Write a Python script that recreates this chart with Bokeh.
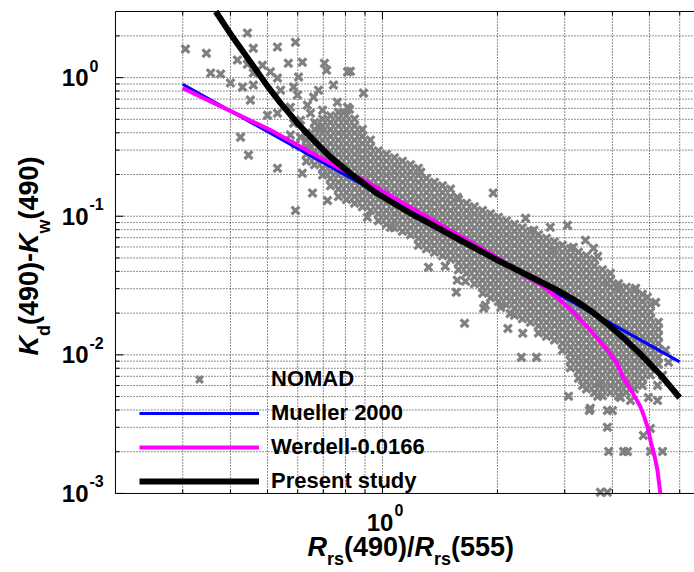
import math
from bokeh.plotting import figure
from bokeh.models import Label, Legend, LegendItem, Range1d
from bokeh.embed import file_html
from bokeh.resources import INLINE

# ---------------- data ----------------
nomad_ratio = [
    # scattered points
    0.305, 0.346, 0.355, 0.377, 0.443, 0.459, 0.417, 0.443, 0.400, 0.430,
    0.459, 0.451, 0.500, 0.425, 0.446, 0.531, 0.531, 0.592, 0.567, 0.705,
    0.485, 0.531, 0.509, 0.585, 0.599, 0.660, 0.680, 0.744, 0.697, 0.648,
    0.762, 0.790, 0.636, 0.574, 0.541, 0.603, 0.459, 0.592, 0.810, 0.714,
    0.617, 0.810, 0.531, 0.610, 0.648, 0.824, 0.892, 0.820, 0.585, 0.688,
    0.617, 0.656, 0.718, 1.95, 1.57, 1.26, 2.37, 2.49, 2.75, 3.05,
    3.40, 3.57, 3.66, 2.80, 3.16, 3.88, 4.12, 4.60, 4.94, 5.19,
    5.51, 5.61, 5.41, 5.25, 1.32, 1.46, 1.57, 1.65, 1.56, 1.83,
    1.86, 2.04, 1.64, 2.13, 2.33, 2.31, 2.53, 1.84, 2.16, 3.07,
    3.34, 3.48, 3.66, 3.70, 3.88, 4.00, 3.88, 3.91, 4.28, 4.38,
    5.03, 5.41, 4.82, 5.03, 4.97, 5.25, 4.20, 4.46, 3.72, 3.88,
    3.50, 0.913, 1.05, 0.610, 0.574, 0.592,
    # dense cloud
    0.632, 0.632, 0.632, 0.632, 0.632,
    0.664, 0.664, 0.664, 0.664, 0.664, 0.664, 0.664,
    0.697, 0.697, 0.697, 0.697, 0.697, 0.697, 0.697, 0.697, 0.697,
    0.731, 0.731, 0.731, 0.731, 0.731, 0.731, 0.731, 0.731, 0.731, 0.731, 0.731,
    0.767, 0.767, 0.767, 0.767, 0.767, 0.767, 0.767, 0.767, 0.767, 0.767, 0.767, 0.767, 0.767,
    0.805, 0.805, 0.805, 0.805, 0.805, 0.805, 0.805, 0.805, 0.805, 0.805, 0.805, 0.805, 0.805,
    0.845, 0.845, 0.845, 0.845, 0.845, 0.845, 0.845, 0.845, 0.845, 0.845, 0.845, 0.845, 0.845,
    0.886, 0.886, 0.886, 0.886, 0.886, 0.886, 0.886, 0.886, 0.886, 0.886, 0.886, 0.886,
    0.930, 0.930, 0.930, 0.930, 0.930, 0.930, 0.930, 0.930, 0.930, 0.930, 0.930,
    0.976, 0.976, 0.976, 0.976, 0.976, 0.976, 0.976, 0.976, 0.976, 0.976, 0.976,
    1.024, 1.024, 1.024, 1.024, 1.024, 1.024, 1.024, 1.024, 1.024, 1.024, 1.024,
    1.075, 1.075, 1.075, 1.075, 1.075, 1.075, 1.075, 1.075, 1.075, 1.075, 1.075,
    1.128, 1.128, 1.128, 1.128, 1.128, 1.128, 1.128, 1.128, 1.128, 1.128, 1.128,
    1.184, 1.184, 1.184, 1.184, 1.184, 1.184, 1.184, 1.184, 1.184, 1.184, 1.184,
    1.242, 1.242, 1.242, 1.242, 1.242, 1.242, 1.242, 1.242, 1.242, 1.242, 1.242, 1.242,
    1.304, 1.304, 1.304, 1.304, 1.304, 1.304, 1.304, 1.304, 1.304, 1.304, 1.304,
    1.368, 1.368, 1.368, 1.368, 1.368, 1.368, 1.368, 1.368, 1.368, 1.368, 1.368,
    1.436, 1.436, 1.436, 1.436, 1.436, 1.436, 1.436, 1.436, 1.436, 1.436, 1.436,
    1.507, 1.507, 1.507, 1.507, 1.507, 1.507, 1.507, 1.507, 1.507, 1.507, 1.507,
    1.581, 1.581, 1.581, 1.581, 1.581, 1.581, 1.581, 1.581, 1.581, 1.581, 1.581,
    1.660, 1.660, 1.660, 1.660, 1.660, 1.660, 1.660, 1.660, 1.660, 1.660, 1.660,
    1.741, 1.741, 1.741, 1.741, 1.741, 1.741, 1.741, 1.741, 1.741, 1.741, 1.741, 1.741,
    1.827, 1.827, 1.827, 1.827, 1.827, 1.827, 1.827, 1.827, 1.827, 1.827, 1.827, 1.827,
    1.918, 1.918, 1.918, 1.918, 1.918, 1.918, 1.918, 1.918, 1.918, 1.918, 1.918, 1.918, 1.918,
    2.012, 2.012, 2.012, 2.012, 2.012, 2.012, 2.012, 2.012, 2.012, 2.012, 2.012, 2.012, 2.012,
    2.112, 2.112, 2.112, 2.112, 2.112, 2.112, 2.112, 2.112, 2.112, 2.112, 2.112, 2.112, 2.112,
    2.216, 2.216, 2.216, 2.216, 2.216, 2.216, 2.216, 2.216, 2.216, 2.216, 2.216, 2.216, 2.216, 2.216,
    2.325, 2.325, 2.325, 2.325, 2.325, 2.325, 2.325, 2.325, 2.325, 2.325, 2.325, 2.325, 2.325, 2.325,
    2.440, 2.440, 2.440, 2.440, 2.440, 2.440, 2.440, 2.440, 2.440, 2.440, 2.440, 2.440, 2.440, 2.440,
    2.561, 2.561, 2.561, 2.561, 2.561, 2.561, 2.561, 2.561, 2.561, 2.561, 2.561, 2.561, 2.561, 2.561, 2.561,
    2.687, 2.687, 2.687, 2.687, 2.687, 2.687, 2.687, 2.687, 2.687, 2.687, 2.687, 2.687, 2.687, 2.687, 2.687,
    2.820, 2.820, 2.820, 2.820, 2.820, 2.820, 2.820, 2.820, 2.820, 2.820, 2.820, 2.820, 2.820, 2.820, 2.820,
    2.959, 2.959, 2.959, 2.959, 2.959, 2.959, 2.959, 2.959, 2.959, 2.959, 2.959, 2.959, 2.959, 2.959, 2.959, 2.959,
    3.105, 3.105, 3.105, 3.105, 3.105, 3.105, 3.105, 3.105, 3.105, 3.105, 3.105, 3.105, 3.105, 3.105, 3.105, 3.105, 3.105, 3.105,
    3.259, 3.259, 3.259, 3.259, 3.259, 3.259, 3.259, 3.259, 3.259, 3.259, 3.259, 3.259, 3.259, 3.259, 3.259, 3.259, 3.259, 3.259, 3.259,
    3.420, 3.420, 3.420, 3.420, 3.420, 3.420, 3.420, 3.420, 3.420, 3.420, 3.420, 3.420, 3.420, 3.420, 3.420, 3.420, 3.420, 3.420, 3.420, 3.420,
    3.589, 3.589, 3.589, 3.589, 3.589, 3.589, 3.589, 3.589, 3.589, 3.589, 3.589, 3.589, 3.589, 3.589, 3.589, 3.589, 3.589, 3.589, 3.589, 3.589,
    3.766, 3.766, 3.766, 3.766, 3.766, 3.766, 3.766, 3.766, 3.766, 3.766, 3.766, 3.766, 3.766, 3.766, 3.766, 3.766, 3.766, 3.766, 3.766,
    3.953, 3.953, 3.953, 3.953, 3.953, 3.953, 3.953, 3.953, 3.953, 3.953, 3.953, 3.953, 3.953, 3.953, 3.953, 3.953, 3.953, 3.953,
    4.148, 4.148, 4.148, 4.148, 4.148, 4.148, 4.148, 4.148, 4.148, 4.148, 4.148, 4.148, 4.148, 4.148, 4.148, 4.148, 4.148,
    4.352, 4.352, 4.352, 4.352, 4.352, 4.352, 4.352, 4.352, 4.352, 4.352, 4.352, 4.352, 4.352, 4.352, 4.352, 4.352,
    4.568, 4.568, 4.568, 4.568, 4.568, 4.568, 4.568, 4.568, 4.568, 4.568, 4.568, 4.568, 4.568, 4.568, 4.568,
    4.793, 4.793, 4.793, 4.793, 4.793, 4.793, 4.793, 4.793, 4.793, 4.793, 4.793, 4.793, 4.793, 4.793,
    5.030, 5.030, 5.030, 5.030, 5.030, 5.030, 5.030, 5.030, 5.030, 5.030, 5.030,
    5.278, 5.278, 5.278, 5.278, 5.278, 5.278, 5.278,
]
nomad_kd = [
    # scattered points
    1.61, 1.50, 1.08, 1.06, 2.10, 1.63, 1.34, 1.25, 0.913, 0.854,
    0.883, 0.688, 0.536, 0.372, 0.276, 0.222, 1.66, 1.80, 1.27, 1.27,
    1.23, 0.992, 1.10, 0.854, 0.748, 0.723, 0.812, 0.883, 0.582, 0.554,
    0.665, 0.563, 0.633, 0.612, 0.812, 1.01, 1.08, 0.110, 1.10, 1.13,
    1.29, 0.612, 0.554, 0.372, 0.315, 1.11, 0.773, 0.592, 0.469, 0.439,
    0.204, 0.147, 0.130, 0.147, 0.137, 0.208, 0.0967, 0.0792, 0.0833, 0.0861,
    0.0671, 0.0587, 0.0514, 0.0568, 0.0597, 0.0328, 0.0307, 0.0302, 0.0260, 0.0239,
    0.0108, 0.00883, 0.00711, 0.00602, 0.0428, 0.0436, 0.0345, 0.0339, 0.0283, 0.0278,
    0.0228, 0.0220, 0.0169, 0.0155, 0.0143, 0.00959, 0.00959, 0.0217, 0.0199, 0.00502,
    0.00602, 0.00397, 0.00502, 0.00622, 0.00397, 0.00397, 0.00300, 0.00201, 0.00201, 0.00201,
    0.00201, 0.00201, 0.00262, 0.00294, 0.00493, 0.00469, 0.00493, 0.00469, 0.00102, 0.00102,
    0.00411, 0.0984, 0.0833, 0.493, 0.385, 0.330,
    # dense cloud
    0.398, 0.354, 0.315, 0.280, 0.249,
    0.474, 0.422, 0.376, 0.334, 0.297, 0.264, 0.235,
    0.502, 0.447, 0.398, 0.354, 0.315, 0.280, 0.249, 0.222, 0.198,
    0.531, 0.474, 0.422, 0.376, 0.334, 0.297, 0.264, 0.235, 0.210, 0.187, 0.166,
    0.563, 0.502, 0.447, 0.398, 0.354, 0.315, 0.280, 0.249, 0.222, 0.198, 0.176, 0.157, 0.139,
    0.531, 0.474, 0.422, 0.376, 0.334, 0.297, 0.264, 0.235, 0.210, 0.187, 0.166, 0.148, 0.132,
    0.502, 0.447, 0.398, 0.354, 0.315, 0.280, 0.249, 0.222, 0.198, 0.176, 0.157, 0.139, 0.124,
    0.422, 0.376, 0.334, 0.297, 0.264, 0.235, 0.210, 0.187, 0.166, 0.148, 0.132, 0.117,
    0.354, 0.315, 0.280, 0.249, 0.222, 0.198, 0.176, 0.157, 0.139, 0.124, 0.110,
    0.297, 0.264, 0.235, 0.210, 0.187, 0.166, 0.148, 0.132, 0.117, 0.104, 0.0928,
    0.280, 0.249, 0.222, 0.198, 0.176, 0.157, 0.139, 0.124, 0.110, 0.0984, 0.0876,
    0.264, 0.235, 0.210, 0.187, 0.166, 0.148, 0.132, 0.117, 0.104, 0.0928, 0.0826,
    0.249, 0.222, 0.198, 0.176, 0.157, 0.139, 0.124, 0.110, 0.0984, 0.0876, 0.0779,
    0.235, 0.210, 0.187, 0.166, 0.148, 0.132, 0.117, 0.104, 0.0928, 0.0826, 0.0735,
    0.222, 0.198, 0.176, 0.157, 0.139, 0.124, 0.110, 0.0984, 0.0876, 0.0779, 0.0694, 0.0618,
    0.187, 0.166, 0.148, 0.132, 0.117, 0.104, 0.0928, 0.0826, 0.0735, 0.0655, 0.0583,
    0.176, 0.157, 0.139, 0.124, 0.110, 0.0984, 0.0876, 0.0779, 0.0694, 0.0618, 0.0550,
    0.166, 0.148, 0.132, 0.117, 0.104, 0.0928, 0.0826, 0.0735, 0.0655, 0.0583, 0.0519,
    0.157, 0.139, 0.124, 0.110, 0.0984, 0.0876, 0.0779, 0.0694, 0.0618, 0.0550, 0.0489,
    0.132, 0.117, 0.104, 0.0928, 0.0826, 0.0735, 0.0655, 0.0583, 0.0519, 0.0461, 0.0411,
    0.124, 0.110, 0.0984, 0.0876, 0.0779, 0.0694, 0.0618, 0.0550, 0.0489, 0.0436, 0.0388,
    0.117, 0.104, 0.0928, 0.0826, 0.0735, 0.0655, 0.0583, 0.0519, 0.0461, 0.0411, 0.0366, 0.0326,
    0.110, 0.0984, 0.0876, 0.0779, 0.0694, 0.0618, 0.0550, 0.0489, 0.0436, 0.0388, 0.0345, 0.0307,
    0.104, 0.0928, 0.0826, 0.0735, 0.0655, 0.0583, 0.0519, 0.0461, 0.0411, 0.0366, 0.0326, 0.0290, 0.0258,
    0.0984, 0.0876, 0.0779, 0.0694, 0.0618, 0.0550, 0.0489, 0.0436, 0.0388, 0.0345, 0.0307, 0.0273, 0.0243,
    0.0928, 0.0826, 0.0735, 0.0655, 0.0583, 0.0519, 0.0461, 0.0411, 0.0366, 0.0326, 0.0290, 0.0258, 0.0230,
    0.0876, 0.0779, 0.0694, 0.0618, 0.0550, 0.0489, 0.0436, 0.0388, 0.0345, 0.0307, 0.0273, 0.0243, 0.0217, 0.0193,
    0.0826, 0.0735, 0.0655, 0.0583, 0.0519, 0.0461, 0.0411, 0.0366, 0.0326, 0.0290, 0.0258, 0.0230, 0.0204, 0.0182,
    0.0779, 0.0694, 0.0618, 0.0550, 0.0489, 0.0436, 0.0388, 0.0345, 0.0307, 0.0273, 0.0243, 0.0217, 0.0193, 0.0172,
    0.0735, 0.0655, 0.0583, 0.0519, 0.0461, 0.0411, 0.0366, 0.0326, 0.0290, 0.0258, 0.0230, 0.0204, 0.0182, 0.0162, 0.0144,
    0.0694, 0.0618, 0.0550, 0.0489, 0.0436, 0.0388, 0.0345, 0.0307, 0.0273, 0.0243, 0.0217, 0.0193, 0.0172, 0.0153, 0.0136,
    0.0655, 0.0583, 0.0519, 0.0461, 0.0411, 0.0366, 0.0326, 0.0290, 0.0258, 0.0230, 0.0204, 0.0182, 0.0162, 0.0144, 0.0128,
    0.0618, 0.0550, 0.0489, 0.0436, 0.0388, 0.0345, 0.0307, 0.0273, 0.0243, 0.0217, 0.0193, 0.0172, 0.0153, 0.0136, 0.0121, 0.0108,
    0.0583, 0.0519, 0.0461, 0.0411, 0.0366, 0.0326, 0.0290, 0.0258, 0.0230, 0.0204, 0.0182, 0.0162, 0.0144, 0.0128, 0.0114, 0.0102, 0.00905, 0.00806,
    0.0550, 0.0489, 0.0436, 0.0388, 0.0345, 0.0307, 0.0273, 0.0243, 0.0217, 0.0193, 0.0172, 0.0153, 0.0136, 0.0121, 0.0108, 0.00959, 0.00854, 0.00760, 0.00677,
    0.0519, 0.0461, 0.0411, 0.0366, 0.0326, 0.0290, 0.0258, 0.0230, 0.0204, 0.0182, 0.0162, 0.0144, 0.0128, 0.0114, 0.0102, 0.00905, 0.00806, 0.00717, 0.00639, 0.00568,
    0.0489, 0.0436, 0.0388, 0.0345, 0.0307, 0.0273, 0.0243, 0.0217, 0.0193, 0.0172, 0.0153, 0.0136, 0.0121, 0.0108, 0.00959, 0.00854, 0.00760, 0.00677, 0.00602, 0.00536,
    0.0411, 0.0366, 0.0326, 0.0290, 0.0258, 0.0230, 0.0204, 0.0182, 0.0162, 0.0144, 0.0128, 0.0114, 0.0102, 0.00905, 0.00806, 0.00717, 0.00639, 0.00568, 0.00506,
    0.0388, 0.0345, 0.0307, 0.0273, 0.0243, 0.0217, 0.0193, 0.0172, 0.0153, 0.0136, 0.0121, 0.0108, 0.00959, 0.00854, 0.00760, 0.00677, 0.00602, 0.00536,
    0.0326, 0.0290, 0.0258, 0.0230, 0.0204, 0.0182, 0.0162, 0.0144, 0.0128, 0.0114, 0.0102, 0.00905, 0.00806, 0.00717, 0.00639, 0.00568, 0.00506,
    0.0307, 0.0273, 0.0243, 0.0217, 0.0193, 0.0172, 0.0153, 0.0136, 0.0121, 0.0108, 0.00959, 0.00854, 0.00760, 0.00677, 0.00602, 0.00536,
    0.0290, 0.0258, 0.0230, 0.0204, 0.0182, 0.0162, 0.0144, 0.0128, 0.0114, 0.0102, 0.00905, 0.00806, 0.00717, 0.00639, 0.00568,
    0.0273, 0.0243, 0.0217, 0.0193, 0.0172, 0.0153, 0.0136, 0.0121, 0.0108, 0.00959, 0.00854, 0.00760, 0.00677, 0.00602,
    0.0230, 0.0204, 0.0182, 0.0162, 0.0144, 0.0128, 0.0114, 0.0102, 0.00905, 0.00806, 0.00717,
    0.0172, 0.0153, 0.0136, 0.0121, 0.0108, 0.00959, 0.00854,
]
assert len(nomad_ratio) == len(nomad_kd), (len(nomad_ratio), len(nomad_kd))

mueller_ratio = [0.30, 6.0]
mueller_kd = [0.895, 0.0089]

werdell_ratio = [0.300, 0.509, 0.762, 0.876, 1.311, 1.953, 2.397, 2.592, 2.92, 3.162,
                 3.504, 3.882, 4.099, 4.27, 4.513, 4.73, 4.852, 4.970, 5.030, 5.152,
                 5.248, 5.34]
werdell_kd = [0.840, 0.418, 0.226, 0.188, 0.0984, 0.0523, 0.0363, 0.0323, 0.0248, 0.0203,
              0.01503, 0.0108, 0.00883, 0.00688, 0.00536, 0.00425, 0.00354, 0.00285, 0.00241, 0.00188,
              0.00147, 0.00100]

present_ratio = [0.366, 0.407, 0.459, 0.500, 0.541, 0.599, 0.660, 0.731, 0.824, 0.876,
                 0.964, 1.069, 1.184, 1.311, 1.60, 1.953, 2.397, 2.92, 3.201, 3.504,
                 3.882, 4.275, 4.73, 5.34, 6.0]
present_kd = [3.00, 1.929, 1.211, 0.868, 0.655, 0.469, 0.354, 0.267, 0.204, 0.179,
              0.147, 0.124, 0.105, 0.0905, 0.0671, 0.0498, 0.0375, 0.0285, 0.02466, 0.02081,
              0.01669, 0.01324, 0.01015, 0.00718, 0.0049]

series_labels = ["NOMAD", "Mueller 2000", "Werdell-0.0166", "Present study"]

# plot-box limits and ticks
x_start, x_end = 0.2, 6.56
y_start, y_end = 0.001, 3.0
x_major_ticks = [1]
x_minor_ticks = [0.3, 0.4, 0.5, 0.6, 0.7, 0.8, 0.9, 2, 3, 4, 5, 6]
x_tick_exponents = ["0"]
y_major_ticks = [0.001, 0.01, 0.1, 1]
y_minor_ticks = [0.002, 0.003, 0.004, 0.005, 0.006, 0.007, 0.008, 0.009,
                 0.02, 0.03, 0.04, 0.05, 0.06, 0.07, 0.08, 0.09,
                 0.2, 0.3, 0.4, 0.5, 0.6, 0.7, 0.8, 0.9, 2]
y_tick_exponents = ["-3", "-2", "-1", "0"]

FONT = "Liberation Sans"
W, H = 694, 572
# canvas extents: the plot box sits inside, leaving room for the outer texts
cx_start, cx_end = 0.1, 6.56
cy_start, cy_end = 0.000269, 3.60

# ---------------- figure ----------------
p = figure(width=W, height=H, x_axis_type="log", y_axis_type="log",
           x_axis_location=None, y_axis_location=None,
           x_range=Range1d(cx_start, cx_end), y_range=Range1d(cy_start, cy_end),
           output_backend="svg", toolbar_location=None, min_border=0)
p.outline_line_color = None
p.background_fill_color = "white"
p.border_fill_color = "white"
p.grid.visible = False

x_ppd = W / math.log10(cx_end / cx_start)   # px per decade
y_ppd = H / math.log10(cy_end / cy_start)

# dotted grid inside the box
gx = [t for t in x_major_ticks + x_minor_ticks if t != x_start]
gy = [t for t in y_major_ticks + y_minor_ticks if t != y_start]
p.segment(gx, [y_start] * len(gx), gx, [y_end] * len(gx),
          line_color="#222222", line_width=1, line_dash="1 2")
p.segment([x_start] * len(gy), gy, [x_end] * len(gy), gy,
          line_color="#222222", line_width=1, line_dash="1 2")

# ---------------- data glyphs ----------------
r_nomad = p.scatter(nomad_ratio, nomad_kd, marker="x", size=11,
                    line_color="#808080", line_width=3.2)
r_mueller = p.line(mueller_ratio, mueller_kd, line_color="#0000ff", line_width=3)
r_werdell = p.line(werdell_ratio, werdell_kd, line_color="#ff00ff", line_width=4,
                   line_join="round")
r_present = p.line(present_ratio, present_kd, line_color="black", line_width=6,
                   line_join="round")

# ---------------- box and inward ticks ----------------
p.segment([x_start, x_start, x_start], [y_start, y_start, y_end],
          [x_start, x_end, x_end], [y_end, y_start, y_end],
          line_color="black", line_width=1)
maj_y, min_y = 10 ** (8 / y_ppd), 10 ** (4 / y_ppd)
maj_x, min_x = 10 ** (8 / x_ppd), 10 ** (4 / x_ppd)
for ticks, f in ((x_major_ticks, maj_y), (x_minor_ticks, min_y)):
    n = len(ticks)
    p.segment(ticks, [y_start] * n, ticks, [y_start * f] * n, line_color="black", line_width=1)
    p.segment(ticks, [y_end / f] * n, ticks, [y_end] * n, line_color="black", line_width=1)
for ticks, f in ((y_major_ticks, maj_x), (y_minor_ticks, min_x)):
    n = len(ticks)
    p.segment([x_start] * n, ticks, [x_start * f] * n, ticks, line_color="black", line_width=1)

legend = Legend(
    items=[LegendItem(label=series_labels[0], renderers=[r_nomad]),
           LegendItem(label=series_labels[1], renderers=[r_mueller]),
           LegendItem(label=series_labels[2], renderers=[r_werdell]),
           LegendItem(label=series_labels[3], renderers=[r_present])],
    location=(139, 78), padding=0, margin=0, spacing=8,
    glyph_width=120, glyph_height=24, label_height=24, label_standoff=12,
    label_text_font=FONT, label_text_font_style="bold", label_text_font_size="22px",
    label_text_color="black",
    background_fill_alpha=0, border_line_alpha=0)
p.add_layout(legend)


def label(x, y, xo, yo, text, size, style="bold", align="left", angle=0.0):
    p.add_layout(Label(x=x, y=y, x_offset=xo, y_offset=yo, text=text, angle=angle,
                       text_align=align, text_baseline="middle", text_color="black",
                       text_font=FONT, text_font_style=style, text_font_size=size))


# ---------------- tick labels ----------------
for v, e in zip(y_major_ticks, y_tick_exponents):
    label(x_start, v, -27, 0, "10", "24px", align="right")
    label(x_start, v, -26, 12, e, "16px")
for v, e in zip(x_major_ticks, x_tick_exponents):
    label(v, y_start, 11, -29.5, "10", "24px", align="right")
    label(v, y_start, 12, -17, e, "16px")

# ---------------- axis titles ----------------
x_title = [("R", "bold italic", "27px", -75, -54),
           ("rs", "bold", "18px", -55.5, -66),
           ("(490)/", "bold", "27px", -38.5, -54),
           ("R", "bold italic", "27px", 32, -54),
           ("rs", "bold", "18px", 51.5, -66),
           ("(555)", "bold", "27px", 68.5, -54)]
for t, st, fs, xo, yo in x_title:
    label(1, y_start, xo, yo, t, fs, style=st)

y_title = [("K", "bold italic", "27px", -86, 138),
           ("d", "bold", "18px", -71, 157.5),
           ("(490)-", "bold", "27px", -86, 168.5),
           ("K", "bold italic", "27px", -86, 240.5),
           ("w", "bold", "18px", -71, 260),
           ("(490)", "bold", "27px", -86, 274)]
for t, st, fs, xo, yo in y_title:
    label(x_start, y_start, xo, yo, t, fs, style=st, angle=math.pi / 2)

open("out.html", "w").write(file_html(p, INLINE))
